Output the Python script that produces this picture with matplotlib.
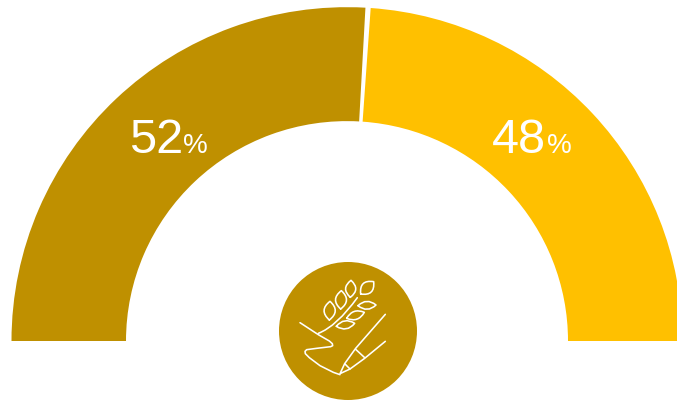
import matplotlib
matplotlib.use("Agg")
import matplotlib.pyplot as plt
from matplotlib.patches import Wedge, Circle, PathPatch
from matplotlib.path import Path
from matplotlib.transforms import Affine2D

categories = ["left", "right"]
shares = [52, 48]
colors = ["#BF9000", "#FFC000"]

W, H = 677, 401
CX, CY = 347, 341
R_OUT, R_IN = 335.5, 221
Y_SQUASH = 0.995
GAP_DEG = 0.45

plt.rcParams["font.family"] = ["Liberation Sans", "DejaVu Sans"]
fig = plt.figure(figsize=(W / 100, H / 100), dpi=100)
ax = fig.add_axes([0, 0, 1, 1])
ax.set_xlim(0, W)
ax.set_ylim(H, 0)
ax.axis("off")

# half-ring: angles run clockwise from the left end because the y axis is inverted
ring = Affine2D().scale(1, Y_SQUASH).translate(CX, CY) + ax.transData
start = 180.0
total = sum(shares)
for i, (share, color) in enumerate(zip(shares, colors)):
    sweep = 180.0 * share / total
    ax.add_patch(Wedge((0, 0), R_OUT, start + (GAP_DEG if i else 0),
                       start + sweep - (0 if i else GAP_DEG),
                       width=R_OUT - R_IN, facecolor=color, edgecolor="none",
                       transform=ring))
    start += sweep

# percentage labels
label_x = [129.5, 491.5]
unit_x = [183.5, 546.5]
for share, lx, ux in zip(shares, label_x, unit_x):
    ax.text(lx, 153, str(share), color="white", fontsize=35, ha="left", va="baseline")
    ax.text(ux, 153, "%", color="white", fontsize=20, ha="left", va="baseline")

# round badge with the wheat and pen icon
ax.add_patch(Circle((348, 331), 69, facecolor=colors[0], edgecolor="none"))


def icon_xy(points):
    return [(270 + x / 3, 255 + y / 3) for x, y in points]


def stroke(points, curved=False, lw=1.15):
    pts = icon_xy(points)
    step = Path.CURVE3 if curved else Path.LINETO
    codes = [Path.MOVETO] + [step] * (len(pts) - 1)
    ax.add_patch(PathPatch(Path(pts, codes), facecolor="none", edgecolor="white",
                           lw=lw, capstyle="round", joinstyle="round"))


def grain(tip, base, bulge=0.6):
    """Leaf-shaped grain between two end points, bulging either side of the axis."""
    (x0, y0), (x1, y1) = tip, base
    dx, dy = x1 - x0, y1 - y0
    mx, my = (x0 + x1) / 2, (y0 + y1) / 2
    a = (mx - dy * bulge, my + dx * bulge)
    b = (mx + dy * bulge, my - dx * bulge)
    stroke([tip, a, base, b, tip], curved=True)


# stem
stroke([(145, 235), (200, 214), (262, 128)], curved=True)

# grains above the stem
grain((178, 195), (180, 139))
grain((212, 162), (214, 107))
grain((241, 127), (243, 76))
grain((272, 117), (311, 80), 0.65)
# grains below the stem
grain((264, 152), (318, 150), 0.44)
grain((230, 190), (283, 172), 0.44)
grain((199, 214), (254, 205), 0.44)

# hand-drawn line from the wheat down to the pen tip
stroke([(90, 203), (145, 239), (178, 258), (187, 266), (188, 272), (182, 275),
        (140, 280), (110, 284), (105, 289), (106, 296), (118, 308), (150, 332),
        (190, 352), (210, 359)])

# pen outline
stroke([(346, 178), (257, 280), (224, 326), (210, 356), (240, 342), (284, 310), (346, 259)])
stroke([(257, 283), (283, 307)])
stroke([(224, 326), (240, 342)])

fig.savefig("out.png", dpi=100, facecolor="white")
